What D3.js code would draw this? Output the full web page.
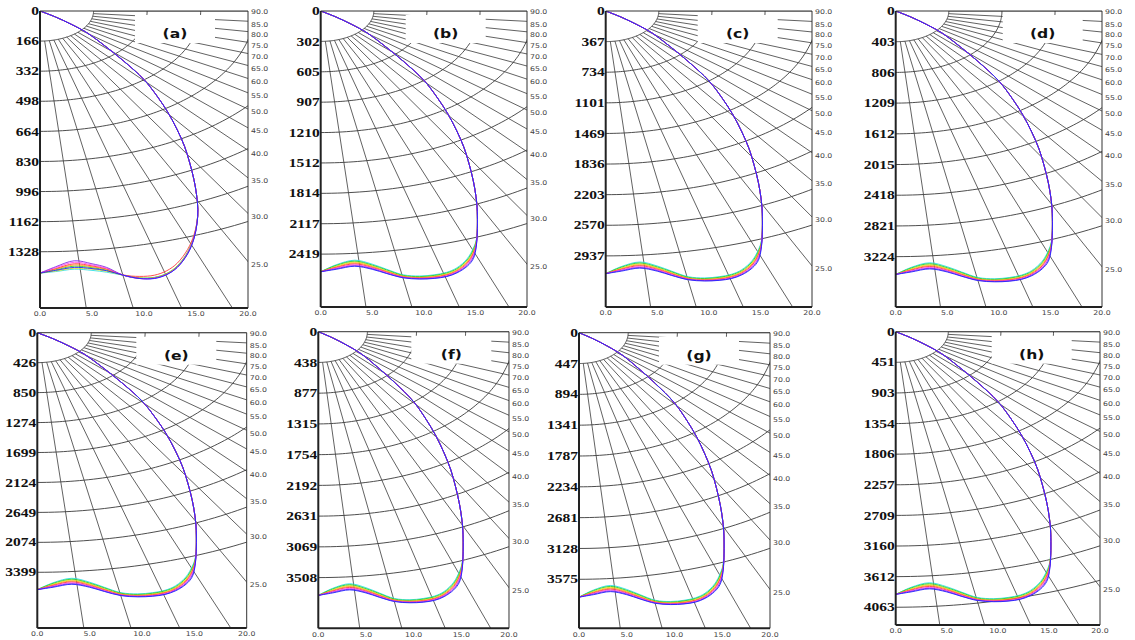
<!DOCTYPE html>
<html>
<head>
<meta charset="utf-8">
<script src="https://cdn.jsdelivr.net/npm/d3@7"></script>
<style>
  body { margin: 0; background: #fff; }
  svg { display: block; }
</style>
</head>
<body>
<svg id="chart" width="1135" height="640"></svg>
<script>
// ---- data ----
var panelNames = ['(a)', '(b)', '(c)', '(d)', '(e)', '(f)', '(g)', '(h)'];
var depthLabels = [
  ['0', '166', '332', '498', '664', '830', '996', '1162', '1328'],
  ['0', '302', '605', '907', '1210', '1512', '1814', '2117', '2419'],
  ['0', '367', '734', '1101', '1469', '1836', '2203', '2570', '2937'],
  ['0', '403', '806', '1209', '1612', '2015', '2418', '2821', '3224'],
  ['0', '426', '850', '1274', '1699', '2124', '2649', '2074', '3399'],
  ['0', '438', '877', '1315', '1754', '2192', '2631', '3069', '3508'],
  ['0', '447', '894', '1341', '1787', '2234', '2681', '3128', '3575'],
  ['0', '451', '903', '1354', '1806', '2257', '2709', '3160', '3612', '4063']
];
// depth at the bottom edge, in rings (one ring = one depth label step)
var depthRange = [9.87, 9.74, 9.67, 9.64, 9.86, 9.65, 9.59, 9.58];
var distTicks = [0, 5, 10, 15, 20];
var ringDist = 5.15;            // one ring measured along the bottom axis
var rayAngles = [5, 10, 15, 20, 25, 30, 35, 40, 45, 50, 55, 60, 65, 70, 75, 80, 85, 90];
var panelGroup = ['A', 'B', 'B', 'B', 'B', 'B', 'B', 'B'];

var seriesNames = ['cyan', 'yellow', 'green', 'orange', 'red', 'magenta', 'purple', 'blue'];
var seriesColors = { cyan: '#2fe0e6', yellow: '#e6e21a', green: '#2ccf2c', orange: '#ff9c1c',
  red: '#ff3a3a', magenta: '#ff4cf0', purple: '#8a2be2', blue: '#2323ff' };

// shared upper branch (distance, depth in rings)
var upperDist  = [0, 1.5, 3.0, 4.5, 6.2, 8.0, 10.0, 11.3, 12.3, 13.2, 13.9, 14.4, 14.8, 15.05, 15.18];
var upperDepth = [0, 0.2, 0.44, 0.72, 1.15, 1.65, 2.28, 2.85, 3.37, 3.95, 4.5, 5.05, 5.6, 6.1, 6.6];

// lower branch, one depth list per series at these distances
var lowerDist = [15.1, 14.8, 14.2, 13.2, 12.2, 11.0, 9.6, 8.0, 6.4, 5.0, 3.3, 1.5, 0];
var lowerA = {
  purple:  [7.05, 7.56, 8.06, 8.52, 8.75, 8.88, 8.89, 8.78, 8.52, 8.40, 8.30, 8.50, 8.71],
  magenta: [7.05, 7.55, 8.05, 8.51, 8.75, 8.88, 8.89, 8.78, 8.55, 8.44, 8.35, 8.53, 8.71],
  red:     [7.00, 7.45, 7.92, 8.38, 8.63, 8.78, 8.82, 8.77, 8.57, 8.47, 8.40, 8.56, 8.71],
  orange:  [7.04, 7.54, 8.04, 8.50, 8.74, 8.87, 8.88, 8.78, 8.59, 8.50, 8.44, 8.58, 8.71],
  green:   [7.03, 7.53, 8.03, 8.49, 8.73, 8.86, 8.88, 8.78, 8.61, 8.53, 8.48, 8.60, 8.71],
  blue:    [7.06, 7.57, 8.07, 8.52, 8.76, 8.89, 8.89, 8.78, 8.63, 8.56, 8.52, 8.62, 8.71],
  yellow:  [7.02, 7.52, 8.02, 8.48, 8.72, 8.86, 8.87, 8.78, 8.65, 8.58, 8.55, 8.64, 8.71],
  cyan:    [7.01, 7.50, 8.00, 8.47, 8.72, 8.85, 8.87, 8.78, 8.68, 8.62, 8.58, 8.66, 8.71]
};
var lowerB = {
  cyan:    [7.50, 7.80, 8.15, 8.45, 8.60, 8.68, 8.72, 8.68, 8.50, 8.33, 8.20, 8.35, 8.58],
  green:   [7.53, 7.85, 8.19, 8.48, 8.62, 8.70, 8.74, 8.70, 8.52, 8.36, 8.23, 8.37, 8.58],
  yellow:  [7.56, 7.90, 8.23, 8.51, 8.65, 8.72, 8.76, 8.72, 8.55, 8.39, 8.26, 8.40, 8.58],
  orange:  [7.58, 7.94, 8.26, 8.53, 8.67, 8.74, 8.77, 8.73, 8.57, 8.41, 8.29, 8.42, 8.58],
  red:     [7.61, 7.98, 8.30, 8.56, 8.69, 8.76, 8.79, 8.75, 8.59, 8.44, 8.32, 8.44, 8.58],
  magenta: [7.64, 8.03, 8.33, 8.58, 8.71, 8.78, 8.80, 8.76, 8.61, 8.46, 8.35, 8.46, 8.58],
  purple:  [7.67, 8.09, 8.37, 8.60, 8.73, 8.79, 8.81, 8.77, 8.63, 8.48, 8.38, 8.48, 8.58],
  blue:    [7.70, 8.15, 8.40, 8.62, 8.74, 8.80, 8.82, 8.78, 8.64, 8.50, 8.40, 8.50, 8.58]
};

// ---- layout: plot frames (left, top, width, height) and tag box centre ----
var frames = [
  { x: 40,    y: 11,    w: 208,   h: 297,   tag: 135 },
  { x: 320.7, y: 11,    w: 206.3, h: 296,   tag: 125 },
  { x: 605.7, y: 11,    w: 206.3, h: 296,   tag: 132 },
  { x: 895.7, y: 11,    w: 206.3, h: 296,   tag: 147 },
  { x: 37.3,  y: 332.7, w: 209.4, h: 295.3, tag: 139 },
  { x: 318.3, y: 331.7, w: 190.7, h: 296.6, tag: 133 },
  { x: 579,   y: 332.7, w: 191,   h: 295.6, tag: 120 },
  { x: 895.7, y: 331.7, w: 204.3, h: 293.3, tag: 136 }
];
var GRID = '#3a3a3a';

var svg = d3.select('#chart');
var rad = Math.PI / 180;

panelNames.forEach(function (name, i) {
  var f = frames[i];
  var x = d3.scaleLinear().domain([0, 20]).range([0, f.w]);
  var y = d3.scaleLinear().domain([0, depthRange[i]]).range([0, f.h]);
  var g = svg.append('g').attr('transform', 'translate(' + f.x + ',' + f.y + ')');
  var clipId = 'clip' + i;
  g.append('clipPath').attr('id', clipId).append('rect').attr('width', f.w).attr('height', f.h);
  var inner = g.append('g').attr('clip-path', 'url(#' + clipId + ')');
  var line = d3.line().x(function (d) { return x(d[0]); }).y(function (d) { return y(d[1]); });

  // rings (polar grid in ring units)
  var nRings = depthLabels[i].length - 1;
  var thetas = d3.range(0, 90.5, 1);
  d3.range(1, nRings + 1).forEach(function (k) {
    var pts = thetas.map(function (t) { return [ringDist * k * Math.sin(t * rad), k * Math.cos(t * rad)]; });
    inner.append('path').attr('d', line(pts)).attr('fill', 'none').attr('stroke', GRID).attr('stroke-width', 0.9);
  });
  // rays from the first ring outward
  rayAngles.forEach(function (t) {
    var s = Math.sin(t * rad), c = Math.cos(t * rad);
    var pts = [[ringDist * s, c], [ringDist * 40 * s, 40 * c]];
    inner.append('path').attr('d', line(pts)).attr('fill', 'none').attr('stroke', GRID).attr('stroke-width', 0.8);
  });

  // white tag box
  g.append('rect').attr('x', f.tag - 40).attr('y', 4).attr('width', 80).attr('height', 28).attr('fill', '#fff');

  // curves
  var lower = panelGroup[i] === 'A' ? lowerA : lowerB;
  var curve = d3.line().curve(d3.curveCatmullRom.alpha(0.5))
    .x(function (d) { return x(d[0]); }).y(function (d) { return y(d[1]); });
  seriesNames.forEach(function (s) {
    var pts = upperDist.map(function (u, j) { return [u, upperDepth[j]]; })
      .concat(lowerDist.map(function (u, j) { return [u, lower[s][j]]; }));
    inner.append('path').attr('d', curve(pts)).attr('fill', 'none')
      .attr('stroke', seriesColors[s]).attr('stroke-width', 0.9);
  });

  // frame
  g.append('line').attr('x1', 0).attr('y1', 0).attr('x2', f.w).attr('y2', 0).attr('stroke', '#333').attr('stroke-width', 1);
  g.append('line').attr('x1', f.w).attr('y1', 0).attr('x2', f.w).attr('y2', f.h).attr('stroke', '#333').attr('stroke-width', 1);
  g.append('line').attr('x1', 0).attr('y1', f.h).attr('x2', f.w).attr('y2', f.h).attr('stroke', '#222').attr('stroke-width', 2);
  g.append('line').attr('x1', 0).attr('y1', 0).attr('x2', 0).attr('y2', f.h).attr('stroke', '#222').attr('stroke-width', 2);

  // left depth labels
  depthLabels[i].forEach(function (lab, k) {
    g.append('text').attr('transform', 'translate(-1,' + y(k) + ') scale(1.35,1)')
      .attr('text-anchor', 'end').attr('dy', '0.36em')
      .attr('font-family', 'Liberation Serif, serif').attr('font-weight', 'bold').attr('font-size', 11.5)
      .attr('fill', '#111').text(lab);
  });

  // right angle labels (where the ray meets the right edge)
  rayAngles.forEach(function (t) {
    var v = t === 90 ? 0 : (20 / ringDist) / Math.tan(t * rad);
    if (v > depthRange[i]) return;
    g.append('text').attr('transform', 'translate(' + (f.w + 3) + ',' + (y(v) + (t === 90 ? 1 : 3)) + ') scale(1.2,1)')
      .attr('dy', '0.35em').attr('font-family', 'DejaVu Sans, sans-serif').attr('font-size', 6.5)
      .attr('fill', '#444').text(t.toFixed(1));
  });

  // bottom distance labels
  distTicks.forEach(function (t) {
    g.append('text').attr('transform', 'translate(' + x(t) + ',' + (f.h + 6) + ') scale(1.2,1)')
      .attr('text-anchor', 'middle').attr('dy', '0.35em')
      .attr('font-family', 'DejaVu Sans, sans-serif').attr('font-size', 6.5)
      .attr('fill', '#444').text(t.toFixed(1));
  });

  // panel tag
  g.append('text').attr('transform', 'translate(' + f.tag + ',27) scale(1.25,1)')
    .attr('text-anchor', 'middle').attr('font-family', 'DejaVu Sans, sans-serif')
    .attr('font-weight', 'bold').attr('font-size', 12.5).attr('fill', '#111').text(name);
});
</script>
</body>
</html>
